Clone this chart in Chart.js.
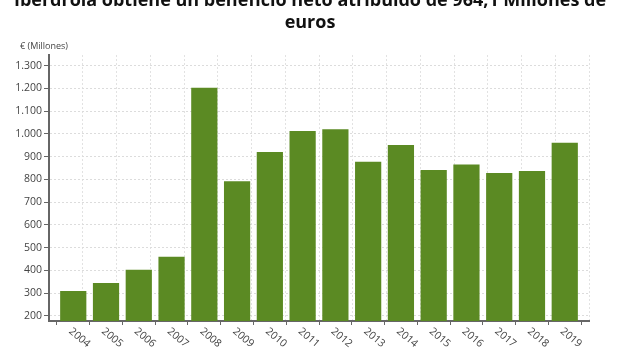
<!DOCTYPE html>
<html>
<head>
<meta charset="utf-8">
<script src="https://cdn.jsdelivr.net/npm/chart.js@4"></script>
<style>
  html, body { margin: 0; padding: 0; background: #fff; }
  #wrap { position: relative; width: 620px; height: 350px; overflow: hidden; }
  #title { position: absolute; left: 0; top: -12px; width: 620px; text-align: center;
           font: bold 18px "Open Sans", sans-serif; line-height: 22px; color: #111; }
  #unit { position: absolute; left: 20px; top: 39px; font: 9px "Open Sans", sans-serif; color: #444; }
  canvas { position: absolute; left: 0; top: 0; }
</style>
</head>
<body>
<div id="wrap">
  <canvas id="chart" width="620" height="350"></canvas>
  <div id="title">Iberdrola obtiene un beneficio neto atribuido de 964,1 Millones de<br>euros</div>
  <div id="unit">€ (Millones)</div>
</div>
<script>
// ==================== DATA ====================
const years = ['2004', '2005', '2006', '2007', '2008', '2009', '2010', '2011',
               '2012', '2013', '2014', '2015', '2016', '2017', '2018', '2019'];
const profit = [310, 345, 403, 460, 1203, 792, 921, 1013,
                1021, 878, 951, 842, 866, 828, 837, 961];
const yTicks = [200, 300, 400, 500, 600, 700, 800, 900, 1000, 1100, 1200, 1300];
const yMin = 178, yMax = 1347;
const xPad = 0.74; // empty space left/right of the first and last bar, in bar slots

const fmt = v => v.toLocaleString('de-DE');

// rotated year labels, drawn clockwise like the original
const yearLabels = {
    id: 'yearLabels',
    afterDraw(chart) {
        const ctx = chart.ctx;
        const xs = chart.scales.x;
        const base = chart.chartArea.bottom;
        ctx.save();
        ctx.font = '10.5px "Open Sans", sans-serif';
        ctx.fillStyle = '#444';
        ctx.textAlign = 'left';
        ctx.textBaseline = 'middle';
        years.forEach((y, i) => {
            const px = xs.getPixelForValue(i);
            ctx.save();
            ctx.translate(px - 3, base + 9);
            ctx.rotate(40 * Math.PI / 180);
            ctx.fillText(y, 0, 0);
            ctx.restore();
        });
        ctx.restore();
    }
};

new Chart(document.getElementById('chart').getContext('2d'), {
    type: 'bar',
    data: {
        datasets: [{ label: '€ (Millones)', data: profit.map((v, i) => ({ x: i, y: v })),
                     backgroundColor: '#5b8a23', barPercentage: 0.8, categoryPercentage: 1 }]
    },
    options: {
        responsive: false,
        animation: false,
        layout: { padding: { top: 55, right: 31, left: 0, bottom: 0 } },
        plugins: { legend: { display: false }, tooltip: { enabled: false } },
        scales: {
            x: {
                type: 'linear', offset: false,
                min: -xPad, max: years.length - 1 + xPad,
                ticks: { display: false },
                afterBuildTicks: s => { s.ticks = years.map((_, i) => ({ value: i })); },
                grid: { drawOnChartArea: false, tickLength: 4, tickColor: '#666', tickWidth: 1 },
                border: { color: '#666', width: 2 },
                afterFit: s => { s.height = 29; }
            },
            xg: {
                type: 'linear', position: 'top', min: 0, max: 15,
                ticks: { display: false, stepSize: 1 },
                grid: { color: '#e2e2e2', lineWidth: 1, drawTicks: false },
                border: { display: false, dash: [2, 2] },
                afterFit: s => { s.height = 0; }
            },
            y: {
                min: yMin, max: yMax,
                ticks: { padding: 2, color: '#444',
                         font: { family: '"Open Sans", sans-serif', size: 10.5 },
                         callback: v => fmt(v) },
                afterBuildTicks: s => { s.ticks = yTicks.map(v => ({ value: v })); },
                grid: { color: '#dcdcdc', tickColor: '#666', tickLength: 5, tickBorderDash: [] },
                border: { color: '#666', width: 2, dash: [2, 2] },
                afterFit: s => { s.width = 49; }
            }
        }
    },
    plugins: [yearLabels]
});
</script>
</body>
</html>
